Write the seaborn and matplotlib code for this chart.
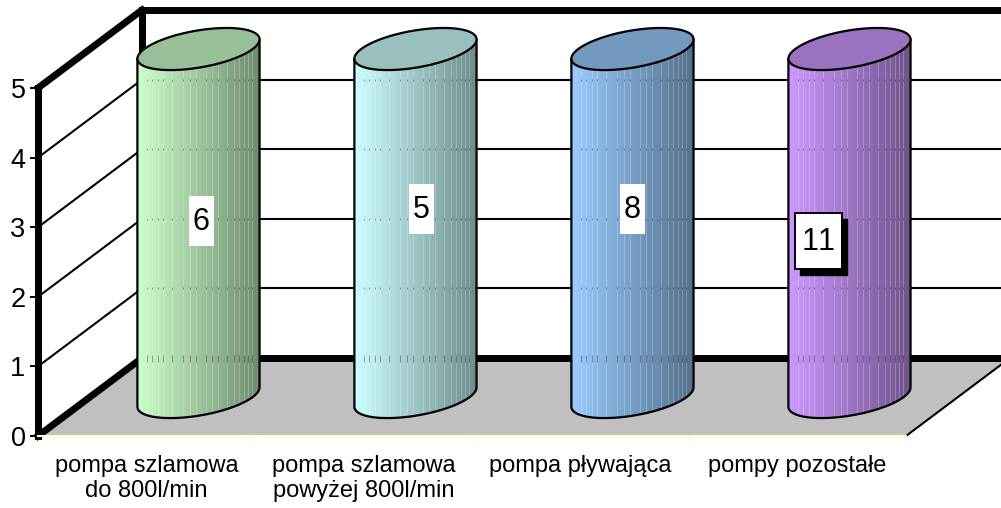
import numpy as np
import matplotlib
matplotlib.use("Agg")
import matplotlib.pyplot as plt
import seaborn as sns
from matplotlib.colors import LinearSegmentedColormap
from matplotlib.path import Path
from matplotlib.patches import PathPatch, Polygon, Rectangle

categories = ["pompa szlamowa\ndo 800l/min", "pompa szlamowa\npowyżej 800l/min",
              "pompa pływająca", "pompy pozostałe"]
values = [6, 5, 8, 11]
y_ticks = [0, 1, 2, 3, 4, 5]
axis_max = 5

base_colors = ["#CCFFCC", "#CCFFFF", "#99CCFF", "#CC99FF"]
label_x = [0.253, 1.267, 2.24, 3.097]
label_y = [3.089, 3.261, 3.261, 2.802]
label_w = [0.115, 0.115, 0.115, 0.2166]
label_h = [0.718, 0.718, 0.718, 0.805]

# depth of the fake 3d box, in data units
depth_x = 0.479
depth_y = 1.12
bar_w = 0.562      # silhouette width
r_x = 0.25         # disc radius along the front
r_d = 0.27         # disc radius along the depth
seams = [0.08, 0.12, 0.17, 0.21, 0.28, 0.37, 0.43, 0.48, 0.56, 0.61, 0.66, 0.73,
         0.79, 0.83, 0.87, 0.91, 0.94]

sns.set_theme(style="white")
plt.rcParams["font.family"] = ["Liberation Sans", "DejaVu Sans"]
plt.rcParams["text.kerning_factor"] = 6  # the "11" label is not kerned in the original

fig = plt.figure(figsize=(10.01, 5.08), dpi=100)
ax = fig.add_axes([38 / 1001, (508 - 436) / 508, 868 / 1001, 348 / 508])
ax.patch.set_alpha(0)

heights = np.minimum(values, axis_max)
sns.barplot(x=categories, y=heights, hue=categories, palette=base_colors, width=bar_w,
            legend=False, ax=ax, zorder=5)
bars = list(ax.patches)
ax.set_xlim(-0.5, 3.5)
ax.set_ylim(0, axis_max)

# floor
ax.add_patch(Polygon([(-0.5, 0), (3.5, 0), (3.5 + depth_x, depth_y), (-0.5 + depth_x, depth_y)],
                     facecolor="#C0C0C0", edgecolor="none", clip_on=False, zorder=1))

# walls and grid
thick = 5
thin = 1.5
for t in y_ticks:
    lw = thick if t in (0, axis_max) else thin
    ax.plot([-0.5, -0.5 + depth_x], [t, t + depth_y], color="black", lw=lw, clip_on=False,
            zorder=2, solid_capstyle="projecting")
    ax.plot([-0.5 + depth_x, 3.5 + depth_x], [t + depth_y, t + depth_y], color="black", lw=lw,
            clip_on=False, zorder=2, solid_capstyle="projecting")
ax.plot([-0.5 + depth_x, -0.5 + depth_x], [depth_y, axis_max + depth_y], color="black", lw=thick,
        clip_on=False, zorder=2)
ax.plot([3.5, 3.5 + depth_x], [0, depth_y], color="black", lw=thin, clip_on=False, zorder=2)

# cylinders, drawn on top of the seaborn bars
t0 = np.arctan2(r_d * depth_x, r_x)
for i, bar in enumerate(bars):
    left = bar.get_x() + depth_x / 2
    bar.set_x(left)
    bar.set_y(depth_y / 2)
    h = bar.get_height()
    w = bar.get_width()
    cx = left + w / 2
    y0 = depth_y / 2
    y1 = y0 + h

    def disc(t, yc):
        return np.column_stack([cx + r_x * np.cos(t) + r_d * depth_x * np.sin(t),
                                yc + r_d * depth_y * np.sin(t)])

    lower = disc(np.linspace(t0 + np.pi, t0 + 2 * np.pi, 80), y0)
    upper = disc(np.linspace(t0, t0 + np.pi, 80), y1)
    body = Path(np.vstack([lower, upper, lower[:1]]))
    clip = PathPatch(body, transform=ax.transData)
    bar.set_clip_path(clip)
    bar.set_clip_box(fig.bbox)

    rgb = np.array(matplotlib.colors.to_rgb(base_colors[i]))
    cmap = LinearSegmentedColormap.from_list("c", [rgb, rgb * 0.55])
    im = ax.imshow(np.linspace(0, 1, 122)[None, :], cmap=cmap, aspect="auto", zorder=6,
                   extent=[left, left + w, y0 - 0.5, y1 + 0.5], interpolation="nearest")
    im.set_clip_path(clip)
    im.set_clip_box(fig.bbox)

    # banding of the gradient
    sx = left + np.array(seams) * w
    sl = ax.vlines(sx, y0 - 0.5, y1 + 0.5, color="white", lw=0.7, alpha=0.24, zorder=7)
    sl.set_clip_path(clip)
    sl.set_clip_box(fig.bbox)
    # back wall grid showing through the seams
    for t in y_ticks[:-1]:
        half = 0.05 if t == 0 else 0.015
        g = ax.vlines(sx, t + depth_y - half, t + depth_y + half, color="black", lw=0.7,
                      alpha=0.35, zorder=7)
        g.set_clip_path(clip)
        g.set_clip_box(fig.bbox)

    ax.plot(np.r_[upper[-1:, 0], lower[:, 0], upper[:1, 0]],
            np.r_[upper[-1:, 1], lower[:, 1], upper[:1, 1]],
            color="black", lw=1.6, clip_on=False, zorder=8)
    top = disc(np.linspace(0, 2 * np.pi, 160), y1)
    ax.add_patch(Polygon(top, facecolor=rgb * 0.75, edgecolor="black", lw=1.6, clip_on=False, zorder=8))

# value labels
for i, v in enumerate(values):
    bx = label_x[i] - label_w[i] / 2
    by = label_y[i] - label_h[i] / 2
    if v > 10:
        ax.add_patch(Rectangle((bx + 0.024, by - 0.08), label_w[i], label_h[i], fc="black", ec="black",
                               lw=1, zorder=9))
        ax.add_patch(Rectangle((bx, by), label_w[i], label_h[i], fc="white", ec="black", lw=1.4, zorder=9))
    else:
        ax.add_patch(Rectangle((bx, by), label_w[i], label_h[i], fc="white", ec="none", zorder=9))
    ax.text(label_x[i], label_y[i] + 0.04, str(v), fontsize=22, ha="center", va="center_baseline",
            color="black", zorder=10)

# axes
for s in ["top", "right"]:
    ax.spines[s].set_visible(False)
ax.spines["left"].set_linewidth(thick)
ax.spines["left"].set_color("black")
ax.spines["bottom"].set_linewidth(1.5)
ax.spines["bottom"].set_color("#FFFFC8")
ax.spines["bottom"].set_zorder(3)
ax.set_yticks(y_ticks)
ax.tick_params(axis="y", left=True, length=6, width=1.4, color="black", labelsize=19.5, pad=3,
               labelcolor="black")
ax.set_xticks(range(4))
ax.set_xticks(np.arange(-0.5, 4), minor=True)
ax.tick_params(axis="x", which="major", bottom=False, labelsize=17, pad=7.5, labelcolor="black")
ax.tick_params(axis="x", which="minor", bottom=True, length=4.5, width=1, color="#FFFFC8")
ax.set_xlabel("")
ax.set_ylabel("")

fig.savefig("out.png", dpi=100)
